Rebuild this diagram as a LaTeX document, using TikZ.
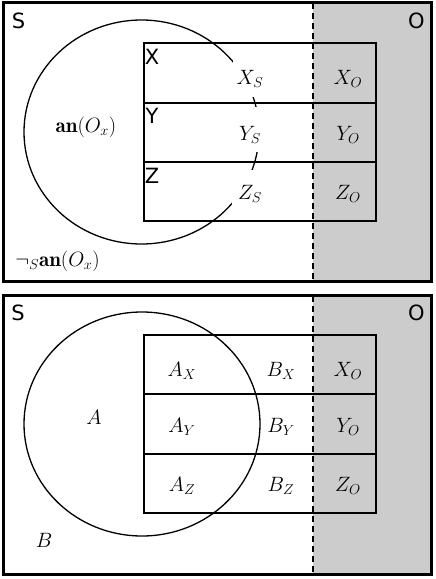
\documentclass[tikz,border=0pt]{standalone}
\usepackage{fontspec}
\newfontfamily\labfont{DejaVu Sans}
\begin{document}
\begin{tikzpicture}[x=1pt,y=-1pt,
  frame/.style={line width=3pt},
  rowbox/.style={draw,line width=2pt,minimum width=232pt,minimum height=59.5pt,inner sep=0pt},
  circ/.style={line width=1.3pt},
  sepline/.style={dash pattern=on 6pt off 4pt,line width=1.2pt},
  mlab/.style={font=\fontsize{21}{25}\selectfont,inner sep=0pt},
  slab/.style={font=\labfont\fontsize{21}{25}\selectfont,inner sep=0pt},
  shade/.style={fill=black!20}
]
\useasboundingbox (0,0) rectangle (436,579);
\fill[white] (0,0) rectangle (436,579);

% ---------------- top panel ----------------
\fill[shade] (313,2.5) rectangle (431,281);
\coordinate (t1) at (313,2.5);
\coordinate (t2) at (313,281);
\draw[sepline] (t1) -- (t2);
\draw[circ] (141.5,132) ellipse [x radius=117.5, y radius=112];
\fill[white] (233,59) rectangle (268,97);
\fill[white] (233,107) rectangle (268,152);
\fill[white] (231.5,170) rectangle (268,208);
\node[rowbox] (rX) at (260,72.85) {};
\node[rowbox] (rY) at (260,132.5) {};
\node[rowbox] (rZ) at (260,191.7) {};
\node[slab] (S1) at (18.5,20.5) {S};
\node[slab] (O1) at (416.5,20.5) {O};
\node[slab] (lX) at (152,57) {X};
\node[slab] (lY) at (152,116) {Y};
\node[slab] (lZ) at (152,175.5) {Z};
\node[mlab] (an) at (86,127) {$\mathbf{an}(O_x)$};
\node[mlab] (nan) at (57.5,261) {$\neg_S\mathbf{an}(O_x)$};
\node[mlab] (XS) at (250,79) {$X_S$};
\node[mlab] (YS) at (250,135) {$Y_S$};
\node[mlab] (ZS) at (250,194) {$Z_S$};
\node[mlab] (XO1) at (348,79) {$X_O$};
\node[mlab] (YO1) at (348,135) {$Y_O$};
\node[mlab] (ZO1) at (348,194) {$Z_O$};
\draw[frame] (3.5,2.5) rectangle (431,281);

% ---------------- bottom panel ----------------
\fill[shade] (313,295.5) rectangle (431,574.5);
\coordinate (b1) at (313,295.5);
\coordinate (b2) at (313,574.5);
\draw[sepline] (b1) -- (b2);
\draw[circ] (142,424) ellipse [x radius=118, y radius=112];
\node[rowbox] (sX) at (260,364.3) {};
\node[rowbox] (sY) at (260,424.2) {};
\node[rowbox] (sZ) at (260,483.7) {};
\node[slab] (S2) at (18,313) {S};
\node[slab] (O2) at (416.5,313) {O};
\node[mlab] (A) at (94,417) {$A$};
\node[mlab] (B) at (44,540) {$B$};
\node[mlab] (AX) at (182,371) {$A_X$};
\node[mlab] (AY) at (182,427) {$A_Y$};
\node[mlab] (AZ) at (182,486) {$A_Z$};
\node[mlab] (BX) at (281,371) {$B_X$};
\node[mlab] (BY) at (281,427) {$B_Y$};
\node[mlab] (BZ) at (281,486) {$B_Z$};
\node[mlab] (XO2) at (348,371) {$X_O$};
\node[mlab] (YO2) at (348,427) {$Y_O$};
\node[mlab] (ZO2) at (348,486) {$Z_O$};
\draw[frame] (3.5,295.5) rectangle (431,574.5);
\end{tikzpicture}
\end{document}
